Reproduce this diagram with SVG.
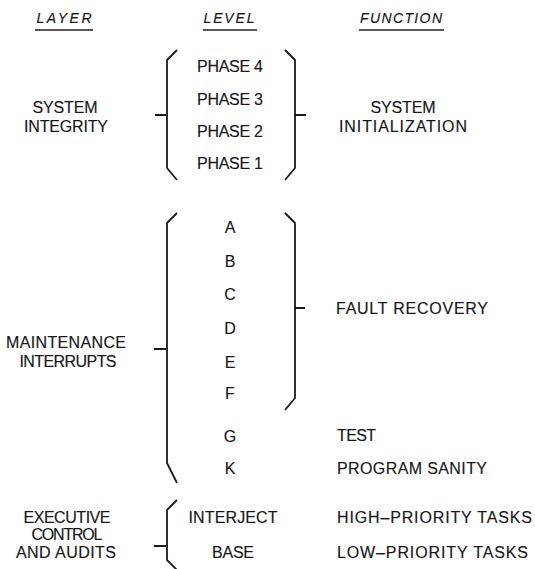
<svg xmlns="http://www.w3.org/2000/svg" width="535" height="569" viewBox="0 0 535 569">
  <style>
    text { font-family: "Liberation Sans", Arial, sans-serif; font-size: 16px; fill: #161616; stroke: #161616; stroke-width: 0.15; }
    .hd { font-size: 14px; font-style: italic; text-anchor: middle; }
    .c { text-anchor: middle; }
    .rule { stroke: #222; stroke-width: 1.7; fill: none; }
    .br { stroke: #1a1a1a; stroke-width: 1.8; fill: none; stroke-linejoin: round; }
  </style>
  <rect width="535" height="569" fill="#ffffff"/>

  <!-- column headings -->
  <g id="headings">
    <text class="hd" x="64" y="23" textLength="55">LAYER</text>
    <text class="hd" x="229" y="23" textLength="51">LEVEL</text>
    <text class="hd" x="401" y="23" textLength="82">FUNCTION</text>
    <line class="rule" x1="35" y1="30" x2="93" y2="30"/>
    <line class="rule" x1="203" y1="30" x2="257" y2="30"/>
    <line class="rule" x1="359" y1="30" x2="444" y2="30"/>
  </g>

  <!-- brace connectors -->
  <g id="connectors">
    <path class="br" d="M177,50 L167,60 V168 L177,180 M155,115 H167"/>
    <path class="br" d="M285,50 L295,60 V168 L285,180 M295,115 H306"/>
    <path class="br" d="M177,213 L167,223 V463 L177,483 M154,349 H167"/>
    <path class="br" d="M285,213 L295,223 V398 L285,410 M295,308 H305"/>
    <path class="br" d="M177,500 L167,510 V560 L177,570 M154,546 H167"/>
  </g>

  <!-- layer: system integrity -->
  <g id="layer-system-integrity">
    <text class="c" x="65" y="113" textLength="65">SYSTEM</text>
    <text class="c" x="66" y="132" textLength="84">INTEGRITY</text>
  </g>
  <g id="levels-phase">
    <text class="c" x="230" y="72" textLength="66">PHASE 4</text>
    <text class="c" x="230" y="105" textLength="66">PHASE 3</text>
    <text class="c" x="230" y="137" textLength="66">PHASE 2</text>
    <text class="c" x="230" y="169" textLength="66">PHASE 1</text>
  </g>
  <g id="function-system-initialization">
    <text class="c" x="403" y="113" textLength="65">SYSTEM</text>
    <text class="c" x="403" y="132" textLength="128">INITIALIZATION</text>
  </g>

  <!-- layer: maintenance interrupts -->
  <g id="layer-maintenance-interrupts">
    <text class="c" x="66" y="348" textLength="120">MAINTENANCE</text>
    <text class="c" x="68" y="367" textLength="97">INTERRUPTS</text>
  </g>
  <g id="levels-interrupt">
    <text class="c" x="230" y="233">A</text>
    <text class="c" x="230" y="267">B</text>
    <text class="c" x="230" y="300">C</text>
    <text class="c" x="230" y="334">D</text>
    <text class="c" x="230" y="368">E</text>
    <text class="c" x="230" y="399">F</text>
    <text class="c" x="230" y="442">G</text>
    <text class="c" x="230" y="474">K</text>
  </g>
  <g id="function-fault-recovery">
    <text x="336" y="314" textLength="152">FAULT RECOVERY</text>
  </g>
  <g id="function-test">
    <text x="337" y="441" textLength="39">TEST</text>
  </g>
  <g id="function-program-sanity">
    <text x="337" y="474" textLength="150">PROGRAM SANITY</text>
  </g>

  <!-- layer: executive control and audits -->
  <g id="layer-executive-control">
    <text class="c" x="67" y="523" textLength="87">EXECUTIVE</text>
    <text class="c" x="67" y="540" textLength="71">CONTROL</text>
    <text class="c" x="66" y="558" textLength="100">AND AUDITS</text>
  </g>
  <g id="levels-executive">
    <text class="c" x="233" y="523" textLength="89">INTERJECT</text>
    <text class="c" x="233" y="558" textLength="42">BASE</text>
  </g>
  <g id="function-high-priority">
    <text x="337" y="523" textLength="195">HIGH–PRIORITY TASKS</text>
  </g>
  <g id="function-low-priority">
    <text x="337" y="558" textLength="191">LOW–PRIORITY TASKS</text>
  </g>
</svg>
